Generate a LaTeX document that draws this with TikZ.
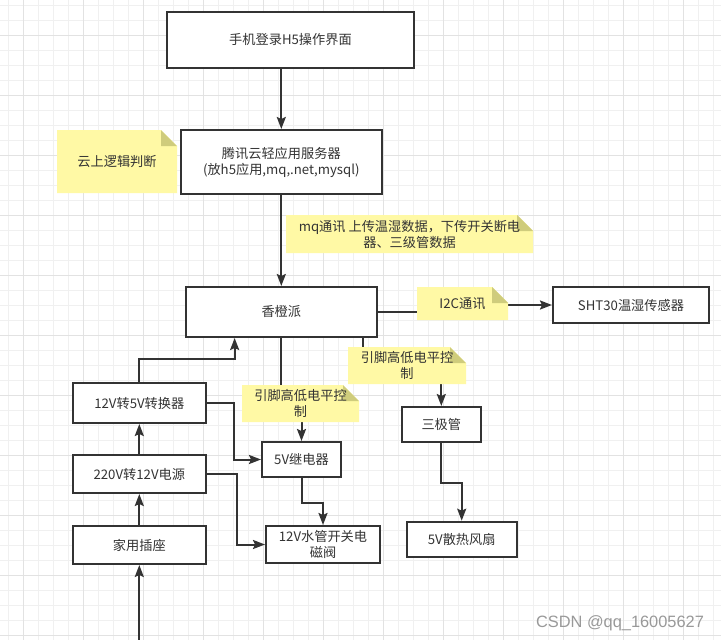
\documentclass[tikz,border=0pt]{standalone}
\usepackage{fontspec}
\newfontfamily\cjk{Noto Sans CJK SC}
\newfontfamily\wmfont{Liberation Sans}
\usetikzlibrary{arrows.meta}
\definecolor{ink}{HTML}{333333}
\definecolor{notey}{HTML}{FFF9A5}
\definecolor{notef}{HTML}{CFCC7C}
\definecolor{gridminor}{HTML}{F0F0F0}
\definecolor{gridmajor}{HTML}{E2E2E2}
\pgfdeclarelayer{bg}
\pgfdeclarelayer{fg}
\pgfsetlayers{bg,main,fg}
\newcommand\mynote[6]{%
  \fill[notey] (#2,#3) -- (#4-16,#3) -- (#4,#3+16) -- (#4,#5) -- (#2,#5) -- cycle;
  \fill[notef] (#4-16,#3) -- (#4-16,#3+16) -- (#4,#3+16) -- cycle;
  \node[notetext] (#1) at ({(#2+#4)/2},{(#3+#5)/2}) {#6};
}
\begin{document}
\begin{tikzpicture}[x=1pt,y=-1pt,
  txt/.style={text=ink, inner sep=0pt, align=center, font=\cjk\fontsize{13.2pt}{16pt}\selectfont},
  box/.style={txt, draw=ink, line width=2pt, fill=white},
  notetext/.style={txt},
  arr/.style={draw=ink, line width=2pt, -{Stealth[length=12pt,width=9pt,inset=2pt]}},
  conn/.style={draw=ink, line width=2pt},
  gminor/.style={draw=gridminor, line width=1pt},
  gmajor/.style={draw=gridmajor, line width=1pt}]
\useasboundingbox (0,0) rectangle (721,640);
\begin{pgfonlayer}{bg}
  \fill[white] (0,0) rectangle (721,640);
  \foreach \i in {0,...,47} \draw[gminor] ({8.33+15*\i},0) -- ++(0,640);
  \foreach \i in {0,...,42} \draw[gminor] (0,{5+15*\i}) -- ++(721,0);
  \foreach \i in {0,...,11} \draw[gmajor] ({23.33+60*\i},0) -- ++(0,640);
  \foreach \i in {0,...,10} \draw[gmajor] (0,{35+60*\i}) -- ++(721,0);
\end{pgfonlayer}

% notes (on top of connectors)
\begin{pgfonlayer}{fg}
  \mynote{nCloud}{57}{130}{177}{193}{云上逻辑判断}
  \mynote{nMq}{286}{215}{533}{253}{mq通讯 上传温湿数据，下传开关断电\\器、三级管数据}
  \mynote{nI2c}{417}{287}{508}{320}{I2C通讯}
  \mynote{nPinR}{348}{347}{466}{384}{引脚高低电平控\\制}
  \mynote{nPinL}{242}{385}{359}{422}{引脚高低电平控\\制}
\end{pgfonlayer}

% boxes
\node[box, minimum width=247pt, minimum height=56pt] (b1) at (290.5,40) {手机登录H5操作界面};
\node[box, minimum width=201pt, minimum height=64pt] (b2) at (281.3,162) {腾讯云轻应用服务器\\(放h5应用,mq,.net,mysql)};
\node[box, minimum width=191.3pt, minimum height=50pt] (xiang) at (281.3,312) {香橙派};
\node[box, minimum width=156pt, minimum height=36pt] (sht) at (631,305) {SHT30温湿传感器};
\node[box, minimum width=79.3pt, minimum height=35pt] (tri) at (441.3,424.5) {三极管};
\node[box, minimum width=79pt, minimum height=35pt] (relay) at (301.5,459.5) {5V继电器};
\node[box, minimum width=114pt, minimum height=37pt] (valve) at (323,544.5) {12V水管开关电\\磁阀};
\node[box, minimum width=110pt, minimum height=35pt] (fan) at (461.7,539.2) {5V散热风扇};
\node[box, minimum width=133.3pt, minimum height=40pt] (c5) at (139.3,403) {12V转5V转换器};
\node[box, minimum width=133.3pt, minimum height=38pt] (p12) at (139.3,474) {220V转12V电源};
\node[box, minimum width=133.3pt, minimum height=38pt] (sock) at (139.3,545) {家用插座};

\coordinate (src) at (139.3,641);
\coordinate (xr) at ([xshift=-15.3pt]xiang.south east);
\coordinate (xl) at ([xshift=50pt]xiang.south west);

% connectors
\draw[arr] (b1.south -| b2.north) -- (b2.north);
\draw[arr] (b2.south) -- (xiang.north);
\draw[arr] (xiang.east) -- (xiang.east -| nI2c.center) |- (sht.west);
\draw[arr] (xiang.south) -- (xiang.south |- nPinL.center) -| (relay.north);
\draw[arr] (xr) -- (xr |- nPinR.center) -| (tri.north);
\draw[arr] (tri.south) -- ++(0,40) -| (fan.north);
\draw[arr] (relay.south) -- ++(0,25) -| (valve.north);
\draw[arr] (src) -- (sock.south);
\draw[arr] (sock.north) -- (p12.south);
\draw[arr] (p12.north) -- (c5.south);
\draw[arr] (c5.north) -- ++(0,-23) -| (xl);
\draw[arr] (c5.east) -- ++(27,0) |- (relay.west);
\draw[arr] (p12.east) -- ++(29.7,0) |- (valve.west);

\node[font=\wmfont\fontsize{16.4pt}{18pt}\selectfont, text=gray!80, inner sep=0pt] (wm) at (620,623) {CSDN @qq\_16005627};
\end{tikzpicture}
\end{document}
